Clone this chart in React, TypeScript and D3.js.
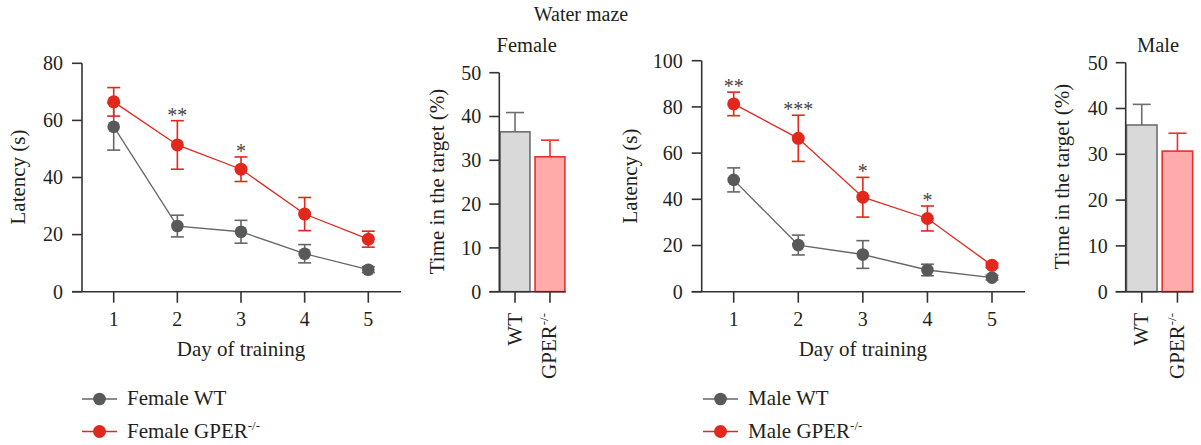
import React from "react";
import * as d3 from "d3";

// ---------- data ----------
const days = [1, 2, 3, 4, 5];
const femaleWT = [57.8, 23.0, 21.0, 13.3, 7.7];
const femaleWTErr = [8.2, 3.8, 4.0, 3.2, 1.0];
const femaleKO = [66.5, 51.4, 42.9, 27.2, 18.4];
const femaleKOErr = [5.0, 8.5, 4.3, 5.8, 2.8];
const femaleStars = ["", "**", "*", "", ""];

const maleWT = [48.4, 20.2, 16.1, 9.4, 6.1];
const maleWTErr = [5.2, 4.3, 6.0, 2.5, 1.0];
const maleKO = [81.3, 66.4, 40.9, 31.7, 11.4];
const maleKOErr = [5.1, 10.0, 8.6, 5.4, 1.0];
const maleStars = ["**", "***", "*", "*", ""];

const femaleLineTicks = [0, 20, 40, 60, 80];
const maleLineTicks = [0, 20, 40, 60, 80, 100];
const barTicks = [0, 10, 20, 30, 40, 50];

const groups = ["WT", "GPER"];
const femaleBar = [36.5, 30.8];
const femaleBarErr = [4.4, 3.8];
const maleBar = [36.4, 30.7];
const maleBarErr = [4.5, 3.9];

// ---------- style ----------
const FONT = "Liberation Serif, DejaVu Serif, serif";
const FS = 21;
const TICK_FS = 20;
const AXIS = "#333333";
const GREY_LINE = "#666666";
const GREY_DOT = "#58595b";
const RED = "#e2271d";
const BAR_GREY_FILL = "#d9d9d9";
const BAR_GREY_STROKE = "#6d6e70";
const BAR_RED_FILL = "#ffabab";
const BAR_RED_STROKE = "#e8302a";
const TXT = { fontFamily: FONT, fontSize: FS };

type LineProps = {
  x0: number; x1: number; axisX: number; axisEnd: number;
  yTop: number; yBottom: number; yMax: number; ticks: number[];
  wt: number[]; wtErr: number[]; ko: number[]; koErr: number[]; stars: string[];
  labelX: number; labelY: number;
};

function Errs({ x, y, vals, errs, color }: any) {
  return (
    <g stroke={color} strokeWidth={1.6} fill="none">
      {vals.map((v: number, i: number) => {
        const cx = x(days[i]);
        const top = y(v + errs[i]);
        const bot = y(v - errs[i]);
        return (
          <g key={i}>
            <line x1={cx} x2={cx} y1={top} y2={bot} />
            <line x1={cx - 6.5} x2={cx + 6.5} y1={top} y2={top} />
            <line x1={cx - 6.5} x2={cx + 6.5} y1={bot} y2={bot} />
          </g>
        );
      })}
    </g>
  );
}

function LinePanel(p: LineProps) {
  const x = d3.scaleLinear().domain([1, 5]).range([p.x0, p.x1]);
  const y = d3.scaleLinear().domain([0, p.yMax]).range([p.yBottom, p.yTop]);
  const line = d3.line<number>().x((_, i) => x(days[i])).y((d) => y(d));
  return (
    <g style={TXT} fill="#231f20">
      <line x1={p.axisX} x2={p.axisX} y1={y(0)} y2={y(p.yMax)} stroke={AXIS} strokeWidth={1.6} />
      <line x1={p.axisX - 10} x2={p.axisEnd} y1={y(0)} y2={y(0)} stroke={AXIS} strokeWidth={1.6} />
      {p.ticks.map((t) => (
        <g key={t}>
          <line x1={p.axisX - 10} x2={p.axisX} y1={y(t)} y2={y(t)} stroke={AXIS} strokeWidth={1.6} />
          <text x={p.axisX - 19} y={y(t)} dy="0.34em" textAnchor="end" fontSize={TICK_FS}>{t}</text>
        </g>
      ))}
      {days.map((d) => (
        <g key={d}>
          <line x1={x(d)} x2={x(d)} y1={y(0)} y2={y(0) + 11} stroke={AXIS} strokeWidth={1.6} />
          <text x={x(d)} y={326} textAnchor="middle" fontSize={TICK_FS}>{d}</text>
        </g>
      ))}
      <text x={x(3)} y={356} textAnchor="middle">Day of training</text>
      <text transform={`translate(${p.labelX},${p.labelY}) rotate(-90)`} textAnchor="middle">Latency (s)</text>

      <Errs x={x} y={y} vals={p.wt} errs={p.wtErr} color={GREY_LINE} />
      <path d={line(p.wt) || ""} fill="none" stroke={GREY_LINE} strokeWidth={1.3} />
      {p.wt.map((v, i) => (
        <circle key={i} cx={x(days[i])} cy={y(v)} r={6.3} fill={GREY_DOT} />
      ))}
      <Errs x={x} y={y} vals={p.ko} errs={p.koErr} color={RED} />
      <path d={line(p.ko) || ""} fill="none" stroke={RED} strokeWidth={1.3} />
      {p.ko.map((v, i) => (
        <circle key={i} cx={x(days[i])} cy={y(v)} r={6.5} fill={RED} />
      ))}
      {p.stars.map((s, i) =>
        s ? (
          <text key={i} x={x(days[i])} y={y(p.ko[i] + p.koErr[i]) + 1} textAnchor="middle" fill="#444" fontSize={20}>
            {s}
          </text>
        ) : null
      )}
    </g>
  );
}

type BarProps = {
  axisX: number; x1: number; yTop: number; yBottom: number;
  vals: number[]; errs: number[]; title: string; titleX: number;
  labelX: number; labelY: number;
};

function BarPanel(p: BarProps) {
  const x = d3.scaleBand<string>().domain(groups).range([p.axisX, p.x1]).paddingInner(0.1).paddingOuter(0);
  const y = d3.scaleLinear().domain([0, 50]).range([p.yBottom, p.yTop]);
  const fills = [BAR_GREY_FILL, BAR_RED_FILL];
  const strokes = [BAR_GREY_STROKE, BAR_RED_STROKE];
  const bw = x.bandwidth();
  return (
    <g style={TXT} fill="#231f20">
      <text x={p.titleX} y={52} textAnchor="middle" fontSize={20.5}>{p.title}</text>
      {groups.map((g, i) => {
        const bx = x(g) as number;
        const cx = bx + bw / 2;
        const top = y(p.vals[i]);
        const et = y(p.vals[i] + p.errs[i]);
        return (
          <g key={g}>
            <line x1={cx} x2={cx} y1={top} y2={et} stroke={strokes[i]} strokeWidth={1.6} />
            <line x1={cx - 9} x2={cx + 9} y1={et} y2={et} stroke={strokes[i]} strokeWidth={1.6} />
            <rect x={bx + 0.8} y={top} width={bw - 1.6} height={y(0) - top} fill={fills[i]} stroke={strokes[i]} strokeWidth={1.6} />
          </g>
        );
      })}
      <line x1={p.axisX} x2={p.axisX} y1={y(0)} y2={y(50)} stroke={AXIS} strokeWidth={1.6} />
      <line x1={p.axisX - 10} x2={p.x1} y1={y(0)} y2={y(0)} stroke={AXIS} strokeWidth={1.6} />
      {barTicks.map((t) => (
        <g key={t}>
          <line x1={p.axisX - 10} x2={p.axisX} y1={y(t)} y2={y(t)} stroke={AXIS} strokeWidth={1.6} />
          <text x={p.axisX - 18} y={y(t)} dy="0.34em" textAnchor="end" fontSize={TICK_FS}>{t}</text>
        </g>
      ))}
      {groups.map((g) => {
        const cx = (x(g) as number) + bw / 2;
        return (
          <g key={g}>
            <line x1={cx} x2={cx} y1={y(0)} y2={y(0) + 11} stroke={AXIS} strokeWidth={1.6} />
            <text transform={`translate(${cx + 6.5},${313}) rotate(-90)`} textAnchor="end">
              {g}
              {g === "GPER" ? <tspan fontSize={13} dy={-8}>-/-</tspan> : null}
            </text>
          </g>
        );
      })}
      <text transform={`translate(${p.labelX},${p.labelY}) rotate(-90)`} textAnchor="middle">
        Time in the target (%)
      </text>
    </g>
  );
}

function Legend({ x, label }: { x: number; label: string }) {
  return (
    <g style={TXT} fill="#231f20">
      <line x1={x} x2={x + 35} y1={399} y2={399} stroke={GREY_LINE} strokeWidth={1.5} />
      <circle cx={x + 17.5} cy={399} r={6.3} fill={GREY_DOT} />
      <text x={x + 45} y={405}>{label} WT</text>
      <line x1={x} x2={x + 35} y1={431.5} y2={431.5} stroke={RED} strokeWidth={1.5} />
      <circle cx={x + 17.5} cy={431.5} r={6.5} fill={RED} />
      <text x={x + 45} y={438}>
        {label} GPER<tspan fontSize={13} dy={-8}>-/-</tspan>
      </text>
    </g>
  );
}

export default function App() {
  return (
    <svg width={1201} height={445} style={{ position: "absolute", left: 0, top: 0, background: "#fff" }}>
      <text x={581} y={21} textAnchor="middle" style={{ fontFamily: FONT, fontSize: 20 }} fill="#231f20">Water maze</text>
      <LinePanel
        x0={113.7} x1={368.3} axisX={82} axisEnd={401} yTop={63.3} yBottom={291.7} yMax={80}
        ticks={femaleLineTicks} wt={femaleWT} wtErr={femaleWTErr} ko={femaleKO} koErr={femaleKOErr}
        stars={femaleStars} labelX={25} labelY={177}
      />
      <BarPanel axisX={499.3} x1={565.7} yTop={72.7} yBottom={291.7} vals={femaleBar} errs={femaleBarErr}
        title="Female" titleX={526.7} labelX={444} labelY={181.5} />
      <LinePanel
        x0={733.7} x1={992} axisX={701.7} axisEnd={1025} yTop={60.7} yBottom={291.7} yMax={100}
        ticks={maleLineTicks} wt={maleWT} wtErr={maleWTErr} ko={maleKO} koErr={maleKOErr}
        stars={maleStars} labelX={637} labelY={176}
      />
      <BarPanel axisX={1125.7} x1={1193.5} yTop={62.7} yBottom={291.7} vals={maleBar} errs={maleBarErr}
        title="Male" titleX={1158} labelX={1069} labelY={176.5} />
      <Legend x={82} label="Female" />
      <Legend x={703} label="Male" />
    </svg>
  );
}
